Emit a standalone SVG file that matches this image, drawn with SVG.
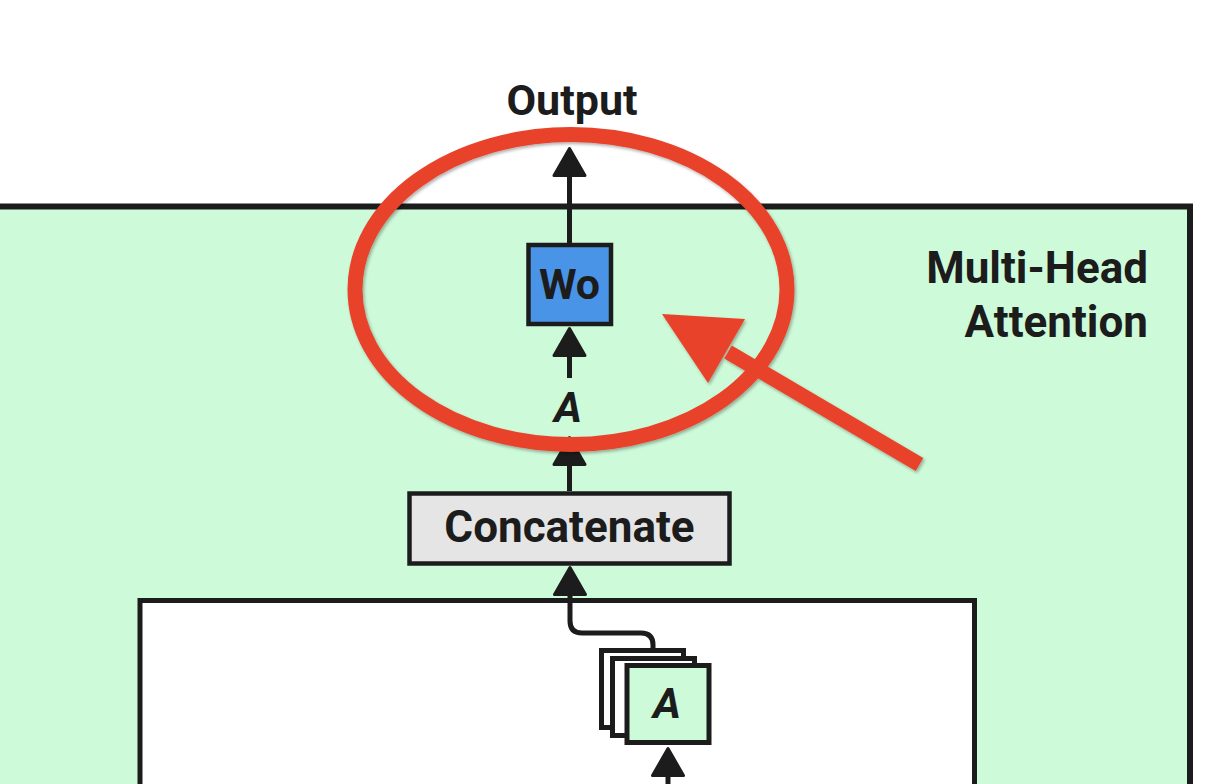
<svg xmlns="http://www.w3.org/2000/svg" width="1228" height="784" viewBox="0 0 1228 784">
<defs>
<style>
.lbl{font-family:Roboto,"Liberation Sans",sans-serif;font-weight:700;fill:#1c1c1c}
.it{font-style:italic}
.ln{fill:none;stroke:#1c1c1c;stroke-width:5}
.card{stroke:#1c1c1c;stroke-width:5}
.red{fill:none;stroke:#e8432a}
</style>
<marker id="ah" markerUnits="userSpaceOnUse" markerWidth="40" markerHeight="40" viewBox="0 0 40 40" refX="4" refY="20" orient="auto">
<path d="M4,4.5 L31,20 L4,35.5 Z" fill="#1c1c1c" stroke="#1c1c1c" stroke-width="3" stroke-linejoin="round"/>
</marker>
<filter id="sh" x="-10%" y="-10%" width="120%" height="120%">
<feDropShadow dx="1.5" dy="2" stdDeviation="1.5" flood-color="#000" flood-opacity="0.3"/>
</filter>
</defs>
<rect width="1228" height="784" fill="#ffffff"/>
<g id="mha">
<rect x="-10" y="206.5" width="1200" height="600" fill="#cdfad9" stroke="#1c1c1c" stroke-width="6"/>
<text class="lbl" x="1148" y="283" font-size="44" text-anchor="end">Multi-Head</text>
<text class="lbl" x="1148" y="337" font-size="44" text-anchor="end">Attention</text>
</g>
<g id="inner">
<rect x="140" y="600.5" width="834.5" height="220" fill="#ffffff" stroke="#1c1c1c" stroke-width="5"/>
</g>
<g id="output">
<text class="lbl" x="572" y="115" font-size="43" text-anchor="middle">Output</text>
</g>
<g id="wo">
<rect x="528.5" y="245" width="82.5" height="79" fill="#4a94e8" stroke="#1c1c1c" stroke-width="4.5"/>
<text class="lbl" x="569.5" y="299" font-size="43" text-anchor="middle">Wo</text>
</g>
<g id="a-label">
<text class="lbl it" x="568" y="422" font-size="43" text-anchor="middle">A</text>
</g>
<g id="concat">
<rect x="409.5" y="493.5" width="320" height="70" fill="#e5e5e5" stroke="#1c1c1c" stroke-width="4.5"/>
<text class="lbl" x="569.5" y="542" font-size="44" text-anchor="middle">Concatenate</text>
</g>
<g id="heads">
<rect class="card" x="601.5" y="650.5" width="82" height="77" fill="#ffffff"/>
<rect class="card" x="612.5" y="658.5" width="82" height="77" fill="#ffffff"/>
<rect class="card" x="627" y="665.5" width="82" height="77" fill="#cdfad9"/>
<text class="lbl it" x="667" y="718" font-size="43" text-anchor="middle">A</text>
</g>
<g id="connectors">
<line class="ln" x1="569.5" y1="243" x2="569.5" y2="175.5" marker-end="url(#ah)"/>
<line class="ln" x1="569.5" y1="378" x2="569.5" y2="355.5" marker-end="url(#ah)"/>
<line class="ln" x1="569.5" y1="491" x2="569.5" y2="464.5" marker-end="url(#ah)"/>
<path class="ln" d="M653,650 L653,645 Q653,633 641,633 L582,633 Q570,633 570,621 L570,594.5" marker-end="url(#ah)"/>
<line class="ln" x1="668" y1="790" x2="668" y2="775.5" marker-end="url(#ah)"/>
</g>
<g id="callout" filter="url(#sh)">
<ellipse class="red" cx="571" cy="289.5" rx="216" ry="155" stroke-width="15"/>
<line class="red" x1="919.5" y1="464.5" x2="728" y2="352" stroke-width="15"/>
<polygon points="662,314 745,319 708,383" fill="#e8432a"/>
</g>
</svg>
